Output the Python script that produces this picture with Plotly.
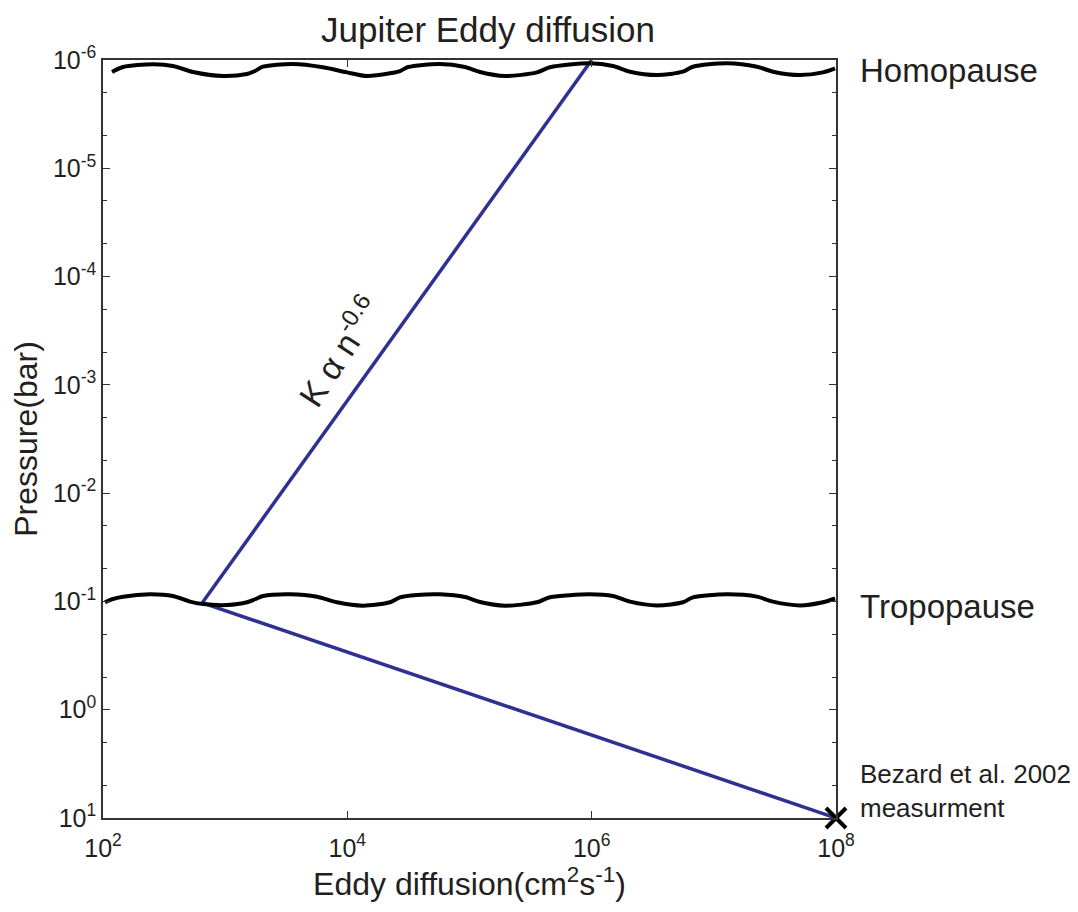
import plotly.graph_objects as go

# ---------------- data ----------------
# Homopause decorative wavy line (log10 of K [cm^2 s^-1], log10 of P [bar])
homo_logK = [2.074, 2.164, 2.409, 2.573, 2.737, 2.982, 3.179, 3.244, 3.310, 3.555,
             3.801, 3.997, 4.161, 4.349, 4.431, 4.497, 4.758, 4.963, 5.086, 5.290,
             5.552, 5.659, 5.986, 6.175, 6.314, 6.535, 6.747, 6.829, 7.108, 7.353,
             7.484, 7.705, 7.893, 7.992]
homo_logP = [-5.889, -5.935, -5.960, -5.945, -5.889, -5.852, -5.871, -5.898, -5.938, -5.963,
             -5.933, -5.886, -5.852, -5.877, -5.898, -5.935, -5.963, -5.935, -5.889, -5.852,
             -5.886, -5.933, -5.970, -5.945, -5.892, -5.861, -5.892, -5.938, -5.970, -5.938,
             -5.892, -5.861, -5.886, -5.923]

# Tropopause decorative wavy line
tropo_logK = [2.016, 2.074, 2.164, 2.385, 2.573, 2.712, 2.819, 3.015, 3.179, 3.244,
              3.310, 3.531, 3.752, 3.915, 4.128, 4.349, 4.431, 4.570, 4.758, 4.963,
              5.086, 5.290, 5.552, 5.659, 5.986, 6.175, 6.314, 6.535, 6.747, 6.829,
              7.108, 7.353, 7.484, 7.705, 7.893, 7.992]
tropo_logP = [-0.992, -1.020, -1.044, -1.066, -1.050, -0.998, -0.976, -0.967, -0.992, -1.020,
              -1.050, -1.066, -1.044, -0.992, -0.961, -0.992, -1.038, -1.060, -1.066, -1.041,
              -0.995, -0.961, -0.992, -1.038, -1.066, -1.050, -0.998, -0.963, -0.992, -1.038,
              -1.066, -1.044, -0.998, -0.963, -0.992, -1.027]

# Eddy diffusion profile (K ~ n^-0.6 above tropopause, linear-in-log below)
upper_K = [6.5e2, 1.0e6]
upper_P = [1.03e-1, 1.0e-6]
lower_K = [6.5e2, 1.0e8]
lower_P = [1.03e-1, 1.0e1]

# Bezard et al. 2002 measurement
meas_K = [1.0e8]
meas_P = [1.0e1]

# Tick labels
x_tickvals = [1e2, 1e4, 1e6, 1e8]
x_ticktext = ["10<sup>2</sup>", "10<sup>4</sup>", "10<sup>6</sup>", "10<sup>8</sup>"]
y_tickvals = [1e-6, 1e-5, 1e-4, 1e-3, 1e-2, 1e-1, 1e0, 1e1]
y_ticktext = ["10<sup>-6</sup>", "10<sup>-5</sup>", "10<sup>-4</sup>", "10<sup>-3</sup>",
              "10<sup>-2</sup>", "10<sup>-1</sup>", "10<sup>0</sup>", "10<sup>1</sup>"]

# ---------------- figure ----------------
FONT = "Liberation Sans, Arial, Helvetica, sans-serif"
TXT = "#231f20"
BLUE = "#2e3192"

fig = go.Figure()

fig.add_trace(go.Scatter(x=upper_K, y=upper_P, mode="lines",
                         line=dict(color=BLUE, width=3.5), showlegend=False))
fig.add_trace(go.Scatter(x=lower_K, y=lower_P, mode="lines",
                         line=dict(color=BLUE, width=3.5), showlegend=False))
fig.add_trace(go.Scatter(x=[10 ** v for v in homo_logK], y=[10 ** v for v in homo_logP],
                         mode="lines", line=dict(color="black", width=4, shape="spline", smoothing=0.8),
                         showlegend=False))
fig.add_trace(go.Scatter(x=[10 ** v for v in tropo_logK], y=[10 ** v for v in tropo_logP],
                         mode="lines", line=dict(color="black", width=4, shape="spline", smoothing=0.8),
                         showlegend=False))
fig.add_trace(go.Scatter(x=meas_K, y=meas_P, mode="markers",
                         marker=dict(symbol="x-thin", size=20, line=dict(color="black", width=4)),
                         cliponaxis=False, showlegend=False))

axis_common = dict(
    showline=True, linecolor="#333333", linewidth=1.5, mirror="ticks",
    ticks="inside", tickcolor="#333333", ticklen=7, tickwidth=1,
    showgrid=False, zeroline=False,
    tickfont=dict(family=FONT, size=25, color=TXT),
)

fig.update_xaxes(type="log", range=[2, 8], tickmode="array",
                 tickvals=x_tickvals, ticktext=x_ticktext, ticklabelstandoff=7,
                 title=dict(text="Eddy diffusion(cm<sup>2</sup>s<sup>-1</sup>)",
                            font=dict(family=FONT, size=32, color=TXT), standoff=4),
                 **axis_common)
fig.update_yaxes(type="log", range=[1, -6], tickmode="array",
                 tickvals=y_tickvals, ticktext=y_ticktext,
                 minor=dict(ticks="inside", ticklen=4, tickcolor="#333333", showgrid=False),
                 title=dict(text="Pressure(bar)",
                            font=dict(family=FONT, size=32, color=TXT), standoff=6),
                 **axis_common)

annots = [
    dict(text="Jupiter Eddy diffusion", x=0.525, y=1.012, xref="paper", yref="paper",
         xanchor="center", yanchor="bottom", showarrow=False,
         font=dict(family=FONT, size=35, color=TXT)),
    dict(text="Homopause", x=1.030, y=0.9868, xref="paper", yref="paper",
         xanchor="left", yanchor="middle", showarrow=False,
         font=dict(family=FONT, size=33, color=TXT)),
    dict(text="Tropopause", x=1.030, y=0.2784, xref="paper", yref="paper",
         xanchor="left", yanchor="middle", showarrow=False,
         font=dict(family=FONT, size=33, color=TXT)),
    dict(text="Bezard et al. 2002<br>measurment", x=1.030, y=0.0356, xref="paper", yref="paper",
         xanchor="left", yanchor="middle", align="left", showarrow=False,
         font=dict(family=FONT, size=26, color=TXT)),
    dict(text="K α n<sup>-0.6</sup>", x=0.3206, y=0.6174, xref="paper", yref="paper",
         xanchor="center", yanchor="middle", showarrow=False, textangle=-57,
         font=dict(family=FONT, size=34, color=TXT)),
]

fig.update_layout(
    width=1070, height=904,
    margin=dict(l=95, r=242, t=52, b=94),
    paper_bgcolor="white", plot_bgcolor="white",
    annotations=annots,
    font=dict(family=FONT, color=TXT),
)

fig.write_html("out.html")
